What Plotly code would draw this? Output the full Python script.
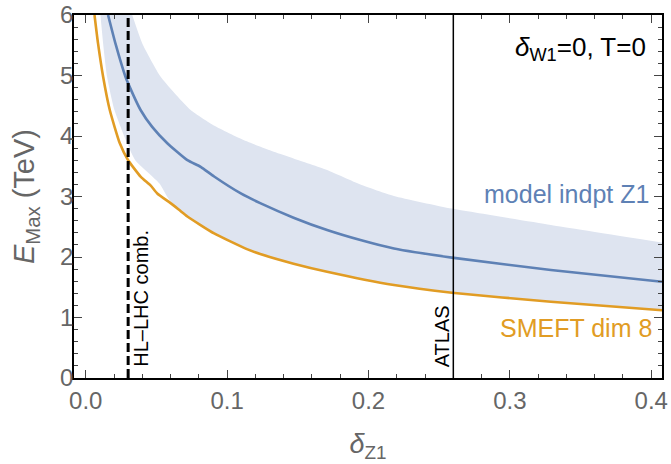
import plotly.graph_objects as go

# delta_Z1 sample points and E_max (TeV) for each curve
smeft_x = [0.0062, 0.0087, 0.0123, 0.017, 0.0241, 0.030, 0.0388, 0.046, 0.0506,
           0.060, 0.066, 0.0719, 0.0908, 0.114, 0.1234, 0.147, 0.1707, 0.218,
           0.259, 0.329, 0.4076]
smeft_e = [6.0, 5.53, 4.98, 4.43, 3.88, 3.60, 3.33, 3.18, 3.05,
           2.89, 2.78, 2.67, 2.39, 2.13, 2.05, 1.89, 1.757, 1.537,
           1.41, 1.26, 1.12]

model_x = [0.0158, 0.0210, 0.0281, 0.030, 0.0388, 0.047, 0.0577, 0.0719, 0.0813,
           0.0908, 0.1097, 0.1234, 0.147, 0.1707, 0.1943, 0.218, 0.259, 0.329,
           0.4076]
model_e = [6.0, 5.53, 4.98, 4.87, 4.43, 4.15, 3.88, 3.60, 3.49,
           3.33, 3.05, 2.89, 2.65, 2.446, 2.28, 2.14, 1.99, 1.785,
           1.59]

# uncertainty band of the model-independent curve
band_up_x = [0.0329, 0.040, 0.053, 0.0742, 0.091, 0.112, 0.133, 0.147, 0.1707,
             0.1943, 0.218, 0.259, 0.329, 0.4076]
band_up_e = [6.0, 5.53, 4.98, 4.43, 4.17, 3.93, 3.74, 3.63, 3.44,
             3.20, 3.01, 2.80, 2.53, 2.24]
band_lo_x = [0.0104, 0.0123, 0.0151, 0.0203, 0.0293, 0.035, 0.052, 0.0587]
band_lo_e = [6.0, 5.53, 4.98, 4.43, 3.88, 3.60, 3.22, 2.96]

# experimental bounds on delta_Z1
bound_hl_lhc = 0.03
bound_atlas = 0.26

BLUE = "#5e81b5"
ORANGE = "#e19c24"
BAND = "rgb(222,228,240)"
GRAY = "#666666"
TICK = "#444444"
FONT = "Liberation Sans, Arial, sans-serif"

# lower band edge joins the SMEFT curve beyond the merge point
lo_x = band_lo_x + [x for x in smeft_x if x > 0.06]
lo_e = band_lo_e + [e for x, e in zip(smeft_x, smeft_e) if x > 0.06]

smooth = dict(shape="spline", smoothing=0.5)

fig = go.Figure()
fig.add_trace(go.Scatter(x=lo_x, y=lo_e, mode="lines",
                         line=dict(width=0, **smooth), hoverinfo="skip",
                         showlegend=False))
fig.add_trace(go.Scatter(x=band_up_x, y=band_up_e, mode="lines", fill="tonexty",
                         fillcolor=BAND, line=dict(width=0, **smooth),
                         hoverinfo="skip", showlegend=False))
fig.add_trace(go.Scatter(x=model_x, y=model_e, mode="lines",
                         line=dict(color=BLUE, width=2.6, **smooth),
                         showlegend=False))
fig.add_trace(go.Scatter(x=smeft_x, y=smeft_e, mode="lines",
                         line=dict(color=ORANGE, width=2.6, **smooth),
                         showlegend=False))

fig.add_shape(type="line", xref="x", yref="paper", x0=bound_hl_lhc, x1=bound_hl_lhc,
              y0=0, y1=1, line=dict(color="black", width=3, dash="9px,4px"))
fig.add_shape(type="line", xref="x", yref="paper", x0=bound_atlas, x1=bound_atlas,
              y0=0, y1=1, line=dict(color="black", width=1.5))

fig.add_annotation(x=0.0395, y=1.32, text="HL\u2013LHC comb.", textangle=-90,
                   showarrow=False, xanchor="center", yanchor="middle",
                   font=dict(family=FONT, size=20, color="black"))
fig.add_annotation(x=0.252, y=0.69, text="ATLAS", textangle=-90,
                   showarrow=False, xanchor="center", yanchor="middle",
                   font=dict(family=FONT, size=20, color="black"))
fig.add_annotation(x=0.398, y=5.45, text="<i>\u03b4</i><sub>W1</sub>=0, T=0",
                   showarrow=False, xanchor="right", yanchor="middle",
                   font=dict(family=FONT, size=26, color="black"))
fig.add_annotation(x=0.4, y=3.04, text="model indpt Z1",
                   showarrow=False, xanchor="right", yanchor="middle",
                   font=dict(family=FONT, size=25, color=BLUE))
fig.add_annotation(x=0.402, y=0.83, text="SMEFT dim 8",
                   showarrow=False, xanchor="right", yanchor="middle",
                   font=dict(family=FONT, size=25, color=ORANGE))

axis_common = dict(showgrid=False, zeroline=False, showline=True, linecolor="black",
                   linewidth=1.6, mirror="ticks", ticks="inside", ticklen=8,
                   tickwidth=1.2, tickcolor=TICK, automargin=False,
                   tickfont=dict(family=FONT, size=24, color=GRAY))

fig.update_xaxes(range=[-0.0083, 0.4076], tick0=0, dtick=0.1, tickformat=".1f",
                 ticklabelstandoff=0,
                 minor=dict(ticks="inside", ticklen=4, dtick=0.02, tick0=0,
                            tickcolor=TICK, showgrid=False),
                 title=dict(text="<i>\u03b4</i><sub>Z1</sub>", standoff=22,
                            font=dict(family=FONT, size=27, color=GRAY)),
                 **axis_common)
fig.update_yaxes(range=[0, 6], tick0=0, dtick=1, ticklabelstandoff=-6,
                 minor=dict(ticks="inside", ticklen=4, dtick=0.2, tick0=0,
                            tickcolor=TICK, showgrid=False),
                 title=dict(text="<i>E</i><sub>Max</sub> (TeV)", standoff=17,
                            font=dict(family=FONT, size=29, color=GRAY)),
                 **axis_common)

fig.update_layout(width=671, height=464, margin=dict(l=74, r=9, t=15, b=86),
                  plot_bgcolor="white", paper_bgcolor="white")

fig.write_html("out.html")
